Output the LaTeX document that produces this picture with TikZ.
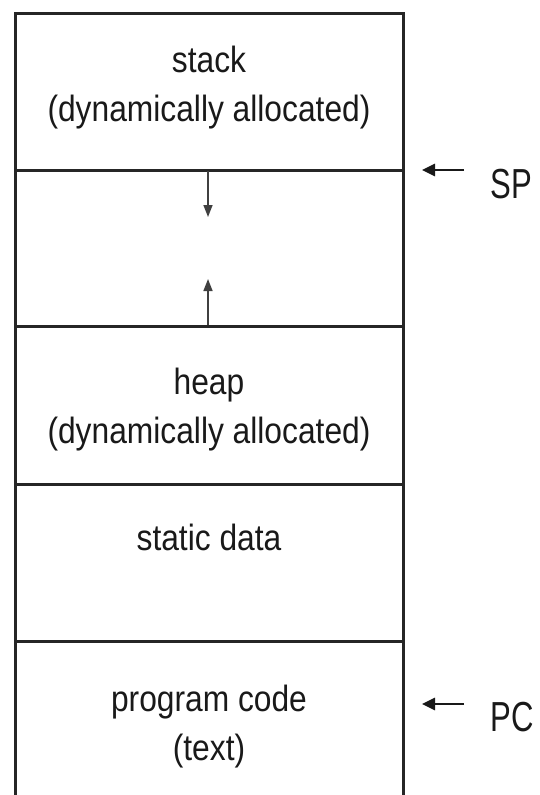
\documentclass[tikz,border=0pt]{standalone}
\usepackage{fontspec}
\setmainfont{Liberation Sans}[FakeStretch=0.87]
\newfontfamily\regfont{Liberation Sans}[FakeStretch=0.74]
\usetikzlibrary{arrows.meta}
\tikzset{
  wall/.style={line width=3pt,black!85},
  seg/.style={font=\fontsize{36.5}{49}\selectfont,align=center,text=black!90},
  reg/.style={font=\regfont\fontsize{42}{46}\selectfont,text=black!90,anchor=west},
  growarrow/.style={line width=1.6pt,black!75,-{Triangle[length=12pt,width=9pt]}},
  ptr/.style={line width=2.6pt,black!90,-{Triangle[length=13pt,width=12pt]}}
}
\begin{document}
\begin{tikzpicture}[x=1pt,y=-1pt]
\useasboundingbox (0,0) rectangle (539,795);
% outline of the memory block, open at the bottom
\draw[wall] (15,795)--(15,13)--(403,13)--(403,795);
\foreach \y in {170,326,484,641}{
  \draw[wall] (15,\y)--(403,\y);
}
% segment labels
\node[seg] (stack) at (209,88) {stack\\(dynamically allocated)};
\node[seg] (heap) at (209,410) {heap\\(dynamically allocated)};
\node[seg] (static) at (209,537) {static data};
\node[seg] (code) at (209,727) {program code\\(text)};
% growth of stack and heap
\coordinate (stacktop) at (208,171);
\coordinate (stackend) at (208,217);
\coordinate (heaptop) at (208,325);
\coordinate (heapend) at (208,279);
\draw[growarrow] (stacktop)--(stackend);
\draw[growarrow] (heaptop)--(heapend);
% registers
\node[reg] (sp) at (487,184) {SP};
\node[reg] (pc) at (487,717) {PC};
\coordinate (sptail) at (464,170);
\coordinate (sptip) at (422,170);
\coordinate (pctail) at (464,704);
\coordinate (pctip) at (422,704);
\draw[ptr] (sptail)--(sptip);
\draw[ptr] (pctail)--(pctip);
\end{tikzpicture}
\end{document}
